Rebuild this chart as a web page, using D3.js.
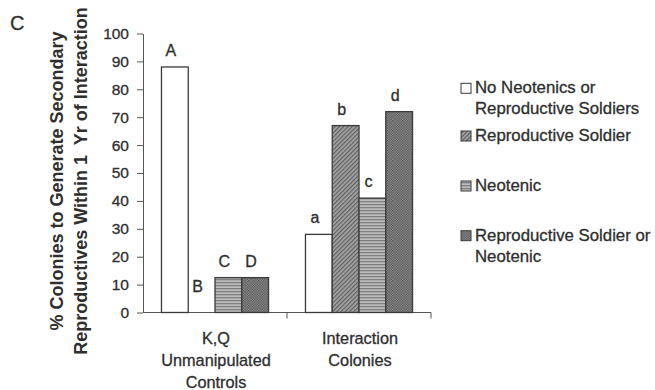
<!DOCTYPE html>
<html>
<head>
<meta charset="utf-8">
<script src="https://cdn.jsdelivr.net/npm/d3@7"></script>
<style>
  html, body { margin: 0; padding: 0; background: #fff; }
  svg { display: block; font-family: "Liberation Sans", Arial, sans-serif; }
  .txt { stroke: #2e2e2e; stroke-width: 0.3px; }
</style>
</head>
<body>
<svg id="chart" width="655" height="390"></svg>
<script>
// Categories along the x axis (multi-line labels)
const categories = ["controls", "interaction"];
const categoryLabels = [["K,Q", "Unmanipulated", "Controls"], ["Interaction", "Colonies"]];

// Series (bar types) and legend text
const series = ["none", "soldier", "neotenic", "either"];
const seriesLabels = [
  ["No Neotenics or", "Reproductive Soldiers"],
  ["Reproductive Soldier"],
  ["Neotenic"],
  ["Reproductive Soldier or", "Neotenic"]
];

// % colonies generating secondary reproductives, per series, per category
const controlsValues = [88, 0, 12.5, 12.5];
const interactionValues = [28, 67, 41, 72];

// Significance letters above each bar
const controlsLetters = ["A", "B", "C", "D"];
const interactionLetters = ["a", "b", "c", "d"];

const yTicks = [0, 10, 20, 30, 40, 50, 60, 70, 80, 90, 100];

const rows = categories.map((c, i) => ({
  cat: c,
  values: i === 0 ? controlsValues : interactionValues,
  letters: i === 0 ? controlsLetters : interactionLetters
}));

const svg = d3.select("#chart");
const textColor = "#2e2e2e";
const axisColor = "#555";

// Fill patterns
const defs = svg.append("defs");

const pSoldier = defs.append("pattern").attr("id", "pat-soldier")
  .attr("patternUnits", "userSpaceOnUse").attr("width", 3).attr("height", 3)
  .attr("patternTransform", "rotate(45)");
pSoldier.append("rect").attr("width", 3).attr("height", 3).attr("fill", "#a4a4a4");
pSoldier.append("rect").attr("width", 1.2).attr("height", 3).attr("fill", "#5e5e5e");

const pNeo = defs.append("pattern").attr("id", "pat-neotenic")
  .attr("patternUnits", "userSpaceOnUse").attr("width", 4).attr("height", 3);
pNeo.append("rect").attr("width", 4).attr("height", 3).attr("fill", "#bdbdbd");
pNeo.append("rect").attr("width", 4).attr("height", 1.3).attr("fill", "#7e7e7e");

const pEither = defs.append("pattern").attr("id", "pat-either")
  .attr("patternUnits", "userSpaceOnUse").attr("width", 2.5).attr("height", 2.5);
pEither.append("rect").attr("width", 2.5).attr("height", 2.5).attr("fill", "#959595");
pEither.append("rect").attr("width", 1.25).attr("height", 1.25).attr("fill", "#505050");
pEither.append("rect").attr("x", 1.25).attr("y", 1.25).attr("width", 1.25).attr("height", 1.25).attr("fill", "#505050");

const fills = {
  none: "#ffffff",
  soldier: "url(#pat-soldier)",
  neotenic: "url(#pat-neotenic)",
  either: "url(#pat-either)"
};

// Scales
const x = d3.scaleBand().domain(categories).range([143, 431]).paddingInner(0).paddingOuter(0);
const xs = d3.scaleBand().domain(series).range([0, x.bandwidth()]).paddingInner(0).paddingOuter(0.69);
const y = d3.scaleLinear().domain([0, 100]).range([312.5, 33.5]);

// Y axis
const yAxis = d3.axisLeft(y).tickValues(yTicks).tickSize(6).tickPadding(8).tickSizeOuter(0);
const gy = svg.append("g").attr("transform", "translate(143,0)").call(yAxis);
gy.select(".domain").attr("stroke", axisColor);
gy.selectAll(".tick line").attr("stroke", axisColor);
gy.selectAll(".tick text").attr("fill", textColor).attr("class", "txt")
  .style("font-family", "'Liberation Sans', Arial, sans-serif")
  .style("font-size", "15.5px");

// X axis baseline and category boundary ticks
svg.append("line")
  .attr("x1", x.range()[0]).attr("x2", x.range()[1])
  .attr("y1", y(0)).attr("y2", y(0))
  .attr("stroke", axisColor);
const boundaries = categories.map(c => x(c) + x.bandwidth());
svg.selectAll(".xtick").data(boundaries).join("line")
  .attr("class", "xtick")
  .attr("x1", d => d).attr("x2", d => d)
  .attr("y1", y(0)).attr("y2", y(0) + 6)
  .attr("stroke", axisColor);

// Bars
const groups = svg.selectAll(".grp").data(rows).join("g")
  .attr("class", "grp")
  .attr("transform", d => `translate(${x(d.cat)},0)`);

const barData = d => series.map((s, i) => ({ s, v: d.values[i], l: d.letters[i] }));

groups.selectAll("rect").data(barData)
  .join("rect")
  .attr("x", d => xs(d.s))
  .attr("width", xs.bandwidth())
  .attr("y", d => y(d.v))
  .attr("height", d => y(0) - y(d.v))
  .attr("fill", d => fills[d.s])
  .attr("stroke", d => d.v > 0 ? "#3a3a3a" : "none")
  .attr("stroke-width", 1.3);

// Letters sit above each bar; a zero-height bar gets its letter just above the baseline
groups.selectAll(".letter").data(barData)
  .join("text")
  .attr("class", "letter txt")
  .attr("x", d => xs(d.s) + xs.bandwidth() / 2 - 4)
  .attr("y", d => d.v === 0 ? y(0) - 21 : y(d.v) - 11)
  .attr("text-anchor", "middle")
  .attr("fill", textColor)
  .style("font-size", "16px")
  .text(d => d.l);

// Category labels
svg.selectAll(".cat").data(rows).join("text")
  .attr("class", "cat txt")
  .attr("text-anchor", "middle")
  .attr("fill", textColor)
  .style("font-size", "16.3px")
  .attr("transform", d => `translate(${x(d.cat) + x.bandwidth() / 2 + 1},343.5)`)
  .selectAll("tspan").data((d, i) => categoryLabels[i]).join("tspan")
  .attr("x", 0).attr("dy", (d, i) => i === 0 ? 0 : 22)
  .text(d => d);

// Y axis title
const yTitle = svg.append("text")
  .attr("transform", "translate(63,181) rotate(-90)")
  .attr("text-anchor", "middle")
  .attr("fill", textColor)
  .style("font-size", "18px")
  .style("font-weight", "bold");
yTitle.append("tspan").attr("x", 0).attr("dy", 0).text("% Colonies to Generate Secondary");
yTitle.append("tspan").attr("x", 0).attr("dy", 23.5).text("Reproductives Within 1\u00a0 Yr of Interaction");

// Panel letter
svg.append("text").attr("x", 10).attr("y", 30).attr("class", "txt")
  .attr("fill", textColor).style("font-size", "20px").text("C");

// Legend
const legendY = [93.3, 141, 191, 240.7];
const leg = svg.selectAll(".leg").data(series).join("g")
  .attr("class", "leg")
  .attr("transform", (d, i) => `translate(461,${legendY[i]})`);
leg.append("rect")
  .attr("x", 0).attr("y", -10).attr("width", 10).attr("height", 10)
  .attr("fill", d => fills[d]).attr("stroke", "#3a3a3a").attr("stroke-width", 1);
leg.append("text")
  .attr("class", "txt")
  .attr("fill", textColor)
  .style("font-size", "16.8px")
  .selectAll("tspan").data((d, i) => seriesLabels[i]).join("tspan")
  .attr("x", 14).attr("dy", (d, i) => i === 0 ? 0 : 21)
  .text(d => d);
</script>
</body>
</html>
